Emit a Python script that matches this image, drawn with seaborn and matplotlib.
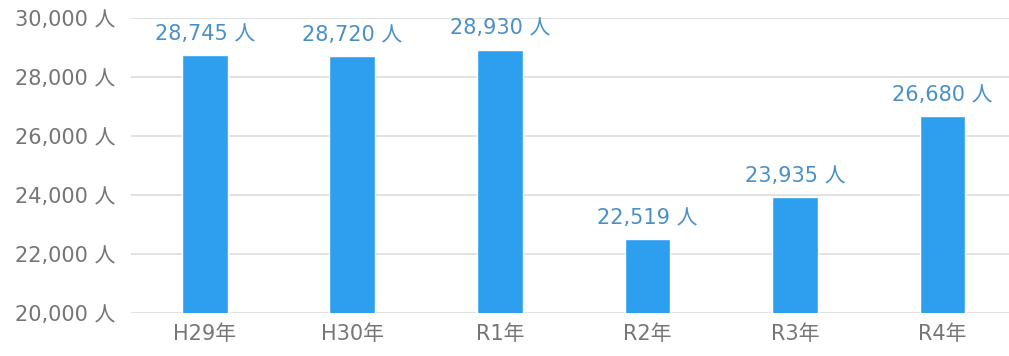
import matplotlib
matplotlib.use("Agg")
import matplotlib.pyplot as plt
import seaborn as sns
import pandas as pd

years = ["H29年", "H30年", "R1年", "R2年", "R3年", "R4年"]
visitors = [28745, 28720, 28930, 22519, 23935, 26680]
y_ticks = [20000, 22000, 24000, 26000, 28000, 30000]

sns.set_theme(style="white")
plt.rcParams["font.family"] = ["DejaVu Sans", "Noto Sans CJK JP"]

df = pd.DataFrame({"year": years, "visitors": visitors})

fig = plt.figure(figsize=(10.09, 3.56), dpi=100)
ax = fig.add_axes([131 / 1009, 43 / 356, 1 - 131 / 1009, (313 - 18) / 356])

sns.barplot(data=df, x="year", y="visitors", color="#2E9FEF", saturation=1,
            width=0.31, ax=ax, zorder=3)

ax.set_ylim(20000, 30000)
ax.set_xlim(-0.5, 5.45)
ax.set_yticks(y_ticks)
ax.set_yticklabels([f"{v:,} 人" for v in y_ticks])
ax.grid(axis="y", color="#DDDDDD", linewidth=1.2, zorder=0)
ax.grid(axis="x", visible=False)
for s in ax.spines.values():
    s.set_visible(False)
ax.set_xlabel("")
ax.set_ylabel("")
ax.tick_params(axis="y", length=0, pad=11, labelsize=15, labelcolor="#757575")
ax.tick_params(axis="x", length=0, pad=8, labelsize=15, labelcolor="#757575")

for i, v in enumerate(visitors):
    ax.annotate(f"{v:,} 人", xy=(i, v), xytext=(0, 8), textcoords="offset points",
                ha="center", va="bottom", fontsize=15, color="#4A90C8")

fig.savefig("out.png", dpi=100)
